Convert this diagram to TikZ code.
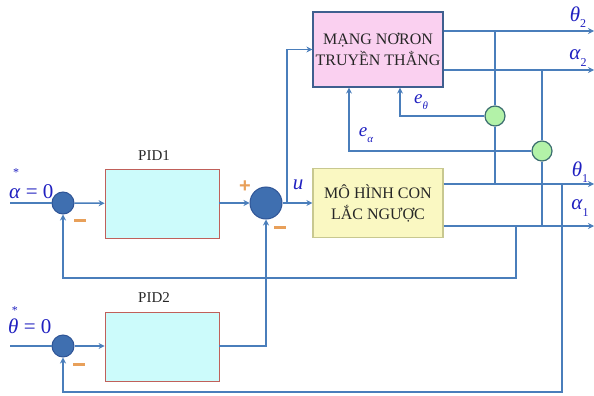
\documentclass[tikz,border=0pt]{standalone}
\usepackage{fontspec}
\setmainfont{Liberation Serif}
\newfontfamily\signfont{Liberation Sans}
\usetikzlibrary{arrows.meta}
\definecolor{lineblue}{HTML}{4A7EBB}
\definecolor{sumfill}{HTML}{3F6FB0}
\definecolor{sumdraw}{HTML}{2F5597}
\definecolor{gfill}{HTML}{B3F2A8}
\definecolor{gdraw}{HTML}{3C6E70}
\definecolor{pidfill}{HTML}{CCFBFB}
\definecolor{piddraw}{HTML}{C0605A}
\definecolor{mangfill}{HTML}{FAD0F0}
\definecolor{mangdraw}{HTML}{3F5F8F}
\definecolor{mhfill}{HTML}{FAF8C2}
\definecolor{mhdraw}{HTML}{C8C890}
\definecolor{labblue}{HTML}{2020C0}
\definecolor{signor}{HTML}{E8A05A}
\newcommand\mysub[1]{\raisebox{-0.3em}{\fontsize{12}{12}\selectfont\upshape #1}}
\newcommand\mysubit[1]{\raisebox{-0.35em}{\fontsize{11}{11}\selectfont #1}}
\tikzset{
  wire/.style={draw=lineblue, line width=1.5pt},
  arr/.style={wire, -{Stealth[length=6pt,width=6pt]}},
  pidbox/.style={draw=piddraw, fill=pidfill, line width=0.8pt, minimum width=114pt, minimum height=69pt, inner sep=0},
  sumc/.style={circle, draw=sumdraw, fill=sumfill, line width=1pt, inner sep=0},
  gc/.style={circle, draw=gdraw, fill=gfill, line width=1.2pt, minimum size=20pt, inner sep=0},
  boxtext/.style={align=center, font=\fontsize{16}{21}\selectfont, text=black!85},
  pidlab/.style={font=\fontsize{15}{17}\selectfont, text=black!85},
  lab/.style={text=labblue, font=\itshape\fontsize{21}{22}\selectfont, inner sep=0},
  smalllab/.style={text=labblue, font=\itshape\fontsize{19}{20}\selectfont, inner sep=0},
  inlab/.style={text=labblue, font=\fontsize{21}{22}\selectfont, inner sep=0, anchor=base west},
  starlab/.style={text=labblue, font=\fontsize{12}{12}\selectfont, inner sep=0},
  sign/.style={text=signor, inner sep=0}
}
\begin{document}
\begin{tikzpicture}[x=1pt,y=-1pt]
\useasboundingbox (0,0) rectangle (594,396);
% blocks
\node[boxtext, draw=mangdraw, fill=mangfill, line width=1.2pt, minimum width=130pt, minimum height=75pt, inner sep=0] (mang) at (378,49.5) {MẠNG NƠRON\\TRUYỀN THẲNG};
\node[boxtext, draw=mhdraw, fill=mhfill, line width=1.2pt, minimum width=130pt, minimum height=69pt, inner sep=0] (mh) at (378,203) {MÔ HÌNH CON\\LẮC NGƯỢC};
\node[pidbox] (pid1) at (162,203.5) {};
\node[pidbox] (pid2) at (162,347) {};
\node[pidlab] (l1) at (154,156) {PID1};
\node[pidlab] (l2) at (154,298) {PID2};
% summing junctions
\node[sumc, minimum size=22pt] (s1) at (63,203) {};
\node[sumc, minimum size=32pt] (s2) at (266,203) {};
\node[sumc, minimum size=22pt] (s3) at (63,346) {};
\node[gc] (g1) at (495,116) {};
\node[gc] (g2) at (542,151) {};
% coordinates
\coordinate (in1) at (10,203);
\coordinate (in3) at (10,346);
\coordinate (b) at (287,203);
\coordinate (t2) at (594,31);
\coordinate (a2) at (594,70);
\coordinate (t1) at (594,184);
\coordinate (a1) at (594,226);
\coordinate (eth) at (400,116);
\coordinate (eal) at (349,151);
\coordinate (fa) at (516,278);
\coordinate (ft) at (562,392);
% main path
\draw[wire] (in1) -- (s1);
\draw[arr] (s1) -- (pid1);
\draw[arr] (pid1.east |- s2) -- (s2);
\draw[arr] (s2) -- (mh.west |- s2);
\draw[arr] (b) |- (mang.west);
% outputs
\draw[arr] (mang.east |- t2) -- (t2);
\draw[arr] (mang.east |- a2) -- (a2);
\draw[arr] (mh.east |- t1) -- (t1);
\draw[arr] (mh.east |- a1) -- (a1);
% error comparators
\draw[wire] (g1 |- t2) -- (g1.north);
\draw[wire] (g1.south) -- (g1 |- t1);
\draw[wire] (g2 |- a2) -- (g2.north);
\draw[wire] (g2.south) -- (g2 |- a1);
\draw[arr] (g1.west) -- (eth) -- (eth |- mang.south);
\draw[arr] (g2.west) -- (eal) -- (eal |- mang.south);
% feedback
\draw[arr] (fa |- a1) -- (fa) -| (s1.south);
\draw[arr] (ft |- t1) -- (ft) -| (s3.south);
% PID2 path
\draw[wire] (in3) -- (s3);
\draw[arr] (s3) -- (pid2.west |- s3);
\draw[arr] (pid2.east |- s3) -| (s2.south);
% labels
\node[lab] (lt2) at (578,17) {θ\mysub{2}};
\node[lab] (la2) at (578,58) {α\mysub{2}};
\node[lab] (lt1) at (580,172) {θ\mysub{1}};
\node[lab] (la1) at (580,208) {α\mysub{1}};
\node[lab] (lu) at (298,185) {u};
\node[smalllab] (le1) at (421,102) {e\mysubit{θ}};
\node[smalllab] (le2) at (366,135) {e\mysubit{α}};
\node[starlab] (st1) at (16,173) {*};
\node[inlab] (lin1) at (9,198) {\textit{α} = 0};
\node[starlab] (st3) at (15,311) {*};
\node[inlab] (lin3) at (8,333) {\textit{θ} = 0};
% signs
\node[sign, font=\signfont\bfseries\fontsize{20}{20}\selectfont] (p1) at (245,187) {+};
\node[sign] (m1) at (80,220) {\rule{12pt}{3pt}};
\node[sign] (m2) at (280,227) {\rule{12pt}{3pt}};
\node[sign] (m3) at (79,364) {\rule{12pt}{3pt}};
\end{tikzpicture}
\end{document}
